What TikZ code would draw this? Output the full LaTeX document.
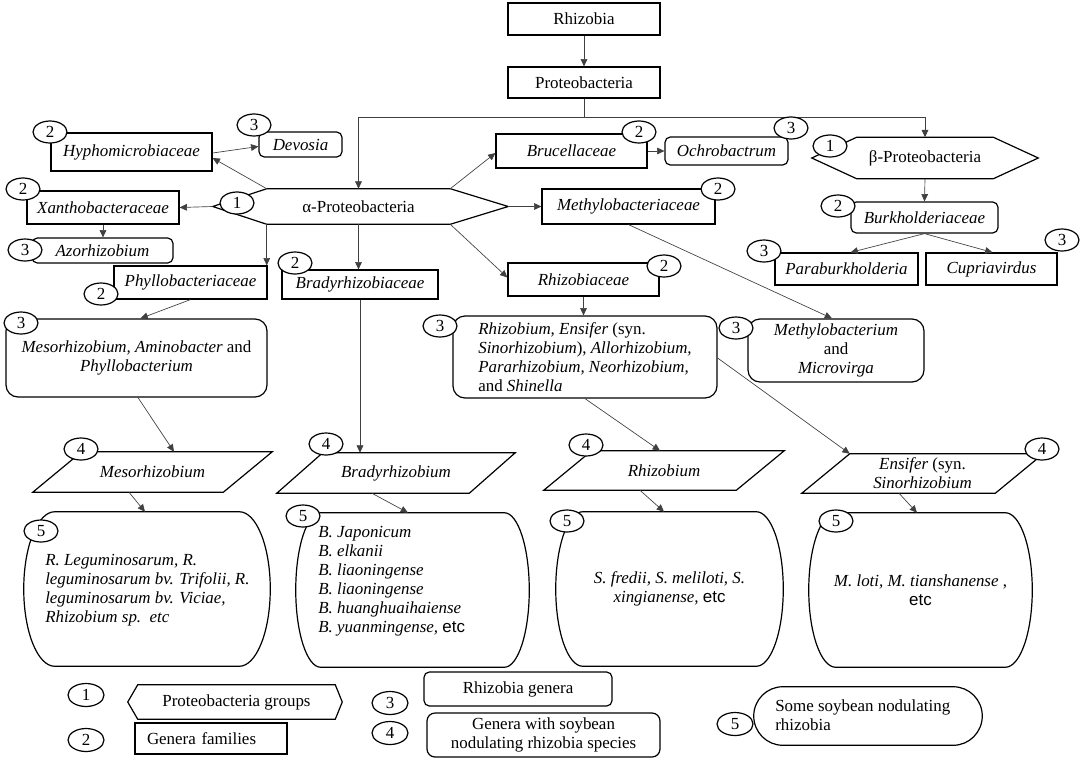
\documentclass[tikz,border=0pt]{standalone}
\usepackage{fontspec}
\setmainfont{Liberation Serif}
\newfontfamily\arialf{Liberation Sans}
\usetikzlibrary{arrows.meta,calc,shapes.geometric}

\tikzset{
 every node/.style={font=\fontsize{12.7pt}{14.2pt}\selectfont},
 sz/.style 2 args={minimum width=#1*0.75pt, minimum height=#2*0.75pt},
 fam/.style={draw, line width=0.9pt, inner sep=0pt},
 gen/.style={draw, line width=0.9pt, rounded corners=4pt, inner sep=0pt},
 big/.style={draw, line width=0.9pt, rounded corners=9pt, inner sep=0pt, align=center},
 outline/.style={draw, line width=0.9pt},
 hidden/.style={inner sep=0pt},
 num/.style={draw, ellipse, fill=white, line width=0.9pt, minimum width=34*0.75pt, minimum height=22*0.75pt, inner sep=0pt},
 lnum/.style={num, minimum width=36*0.75pt, minimum height=23*0.75pt},
 conn/.style={draw=black!75, line width=0.5pt, -{Triangle[length=5.5pt,width=5pt]}},
 plainline/.style={draw=black!75, line width=0.5pt},
}

\newcommand\paraout[2]{\draw[outline] ($(#1.north west)+(#2,0)$) -- (#1.north east) -- ($(#1.south east)+(-#2,0)$) -- (#1.south west) -- cycle;}
\newcommand\hexout[3]{\draw[outline] (#1.north west) -- (#1.north east) -- ($(#1.east)+(#3,0)$) -- (#1.south east) -- (#1.south west) -- ($(#1.west)+(-#2,0)$) -- cycle;}
\newcommand\termout[2]{\draw[outline] ($(#1.north west)+(#2,0)$) -- ($(#1.north east)+(-#2,0)$)
 .. controls ($(#1.north east)+(-0.448*#2,0)$) and ($(#1.east)!0.552!(#1.north east)$) .. (#1.east)
 .. controls ($(#1.east)!0.552!(#1.south east)$) and ($(#1.south east)+(-0.448*#2,0)$) .. ($(#1.south east)+(-#2,0)$)
 -- ($(#1.south west)+(#2,0)$)
 .. controls ($(#1.south west)+(0.448*#2,0)$) and ($(#1.west)!0.552!(#1.south west)$) .. (#1.west)
 .. controls ($(#1.west)!0.552!(#1.north west)$) and ($(#1.north west)+(0.448*#2,0)$) .. ($(#1.north west)+(#2,0)$) -- cycle;}

\begin{document}
\begin{tikzpicture}[x=0.75pt,y=-0.75pt]
\fill[white] (0,0) rectangle (1084,760);
\path[use as bounding box] (0,0) rectangle (1084,760);

% top
\node[fam,sz={152}{32}] (rhiz) at (584,19) {Rhizobia};
\node[fam,sz={152}{31}] (proteo) at (584,82.5) {Proteobacteria};

% groups
\node[hidden,sz={183}{35}] (alpha) at (358.5,206.5) {α-Proteobacteria};
\hexout{alpha}{54}{58}
\coordinate (alphaL) at ($(alpha.west)+(-54,0)$);
\coordinate (alphaR) at ($(alpha.east)+(58,0)$);
\node[hidden,sz={136}{41}] (beta) at (925,158) {β-Proteobacteria};
\hexout{beta}{45}{45}

% families and genera
\node[fam,sz={161}{38}] (hypho) at (131.5,152) {\textit{Hyphomicrobiaceae}};
\node[gen,sz={83}{25}] (devosia) at (300.5,144.5) {\textit{Devosia}};
\node[fam,sz={152}{33}] (xantho) at (103,207.5) {\textit{Xanthobacteraceae}};
\node[gen,sz={141}{25}] (azor) at (102.5,250.5) {\textit{Azorhizobium}};
\node[fam,sz={153}{33}] (phyllo) at (190.5,282.5) {\textit{Phyllobacteriaceae}};
\node[fam,sz={156}{29}] (brady) at (360,284.5) {\textit{Bradyrhizobiaceae}};
\node[fam,sz={151}{34}] (bruc) at (571.5,151) {\textit{Brucellaceae}};
\node[gen,sz={123}{28}] (ochro) at (726.5,151) {\textit{Ochrobactrum}};
\node[fam,sz={173}{35}] (methyl) at (628.5,206.5) {\textit{Methylobacteriaceae}};
\node[fam,sz={151}{33}] (rhizob) at (583.5,279.5) {\textit{Rhizobiaceae}\hspace{27pt}};
\node[gen,sz={147}{31}] (burk) at (924.5,217.5) {\textit{Burkholderiaceae}};
\node[fam,sz={143}{32}] (parab) at (846.5,269) {\textit{Paraburkholderia}};
\node[fam,sz={131}{32}] (cupri) at (991.5,269) {\textit{Cupriavirdus}};

% rhizobia genera
\node[big,sz={261}{78}] (meso3) at (136.5,358) {\textit{Mesorhizobium, Aminobacter} and\\\textit{Phyllobacterium}};
\node[big,sz={264}{82},align=left] (rhizo3) at (585,357) {\textit{Rhizobium, Ensifer} (syn.\\\textit{Sinorhizobium}), \textit{Allorhizobium,}\\\textit{Pararhizobium, Neorhizobium,}\\and \textit{Shinella}};
\node[big,sz={176}{63}] (methyl3) at (836,350.5) {\textit{Methylobacterium}\\and\\\textit{Microvirga}};

% genera with soybean nodulating species
\node[hidden,sz={239}{40}] (mesoP) at (152.5,472) {\textit{Mesorhizobium}};
\paraout{mesoP}{49}
\node[hidden,sz={238}{40}] (bradyP) at (396,473) {\textit{Bradyrhizobium}};
\paraout{bradyP}{46}
\node[hidden,sz={240}{39}] (rhizoP) at (664,470.5) {\textit{Rhizobium}};
\paraout{rhizoP}{48}
\node[hidden,sz={241}{39},align=center] (ensP) at (922.5,473.5) {\textit{Ensifer} (syn.\\\textit{Sinorhizobium}};
\paraout{ensP}{48}

% soybean nodulating rhizobia
\node[hidden,sz={246}{154}] (s1) at (147,589) {};
\termout{s1}{31}
\node[hidden,align=left,anchor=west] (s1t) at (45,590.5) {\textit{R. Leguminosarum, R.}\\\textit{leguminosarum bv. Trifolii, R.}\\\textit{leguminosarum bv. Viciae,}\\\textit{Rhizobium sp.\ \ etc}};
\node[hidden,sz={233}{154}] (s2) at (412.5,590) {};
\termout{s2}{25}
\node[hidden,align=left,anchor=west] (s2t) at (318,581) {\textit{B. Japonicum}\\\textit{B. elkanii}\\\textit{B. liaoningense}\\\textit{B. liaoningense}\\\textit{B. huanghuaihaiense}\\\textit{B. yuanmingense,} {\arialf etc}};
\node[hidden,sz={227}{154},align=center] (s3) at (669.5,589) {\textit{S. fredii, S. meliloti, S.}\\\textit{xingianense,} {\arialf etc}};
\termout{s3}{27}
\node[hidden,sz={223}{154},align=center] (s4) at (920.5,590) {\textit{M. loti, M. tianshanense} ,\\{\arialf etc}};
\termout{s4}{27}

% legend
\node[hidden,sz={197}{34}] (lhex) at (236.5,702) {Proteobacteria groups};
\hexout{lhex}{10}{7}
\node[fam,sz={152}{31},text width=128*0.75pt,align=left] (lfam) at (211,738.5) {Genera families};
\node[gen,sz={188}{34}] (lgen) at (518,689) {Rhizobia genera};
\node[gen,sz={233}{44},align=center,rounded corners=6pt] (lsoy) at (543.5,735) {Genera with soybean\\nodulating rhizobia species};
\node[hidden,sz={228}{58}] (lterm) at (868,716) {};
\termout{lterm}{29}
\node[hidden,align=left,anchor=west] (ltermt) at (775,715) {Some soybean nodulating\\rhizobia};

% connectors
\draw[conn] (rhiz) -- (proteo);
\coordinate (split) at (584,117);
\draw[plainline] (proteo.south) -- (split);
\draw[conn] (split) -| (alpha.north);
\draw[conn] (split) -| (beta.north);
\draw[conn] (alpha.north west) -- ($(hypho.east)+(0,6)$);
\draw[conn] ($(hypho.east)+(0,1)$) -- ($(devosia.west)+(0,2)$);
\draw[conn] (alphaL) -- (xantho.east);
\draw[conn] (xantho.south) -- (xantho.south |- azor.north);
\draw[conn] (alpha.south west) -- (alpha.south west |- phyllo.north);
\draw[conn] (alpha.south) -- (alpha.south |- brady.north);
\draw[conn] (alpha.north east) -- ($(bruc.west)+(0,2)$);
\draw[conn] (bruc.east) -- (ochro.west);
\draw[conn] (alphaR) -- (methyl.west);
\draw[conn] (alpha.south east) -- ($(rhizob.west)+(0,-2)$);
\draw[conn] (beta.south) -- (burk.north);
\draw[conn] (burk.south) -- ($(parab.north)+(4,0)$);
\draw[conn] (burk.south) -- ($(cupri.north)+(1,0)$);
\draw[conn] (methyl.south) -- ($(methyl3.north)+(-4,0)$);
\draw[conn] (phyllo.south) -- ($(meso3.north)+(4,0)$);
\draw[conn] (rhizob.south) -- (rhizob.south |- rhizo3.north);
\draw[conn] (brady.south) -- (brady.south |- bradyP.north);
\draw[conn] ($(meso3.south)+(1.5,0)$) -- ($(mesoP.north)+(21.5,0)$);
\draw[conn] (rhizo3.south) -- ($(rhizoP.north)+(-4,0)$);
\draw[conn] ($(rhizo3.east)+(0,1)$) -- ($(ensP.north west)+(48,0)$);
\draw[conn] ($(mesoP.south)+(-23.5,0)$) -- ($(s1.north)+(-2,0)$);
\draw[conn] ($(bradyP.south)+(-24,0)$) -- ($(s2.north)+(-4.5,0)$);
\draw[conn] ($(rhizoP.south)+(-24,0)$) -- ($(s3.north)+(-5.5,0)$);
\draw[conn] ($(ensP.south)+(-23.5,0)$) -- ($(s4.north)+(-3.5,0)$);

% number markers
\node[num] (n1a) at (237,203) {1};
\node[num] (n1b) at (830,146) {1};
\node[num] (n2hy) at (50,132) {2};
\node[num] (n3de) at (254,125) {3};
\node[num] (n2xa) at (23,189) {2};
\node[num] (n3az) at (25,250) {3};
\node[num] (n2ph) at (101,294) {2};
\node[num] (n2br) at (295,263) {2};
\node[num] (n2bu) at (639,132) {2};
\node[num] (n3oc) at (791,128) {3};
\node[num] (n2me) at (718,189) {2};
\node[num] (n2rh) at (664,266) {2};
\node[num] (n2bk) at (838,206) {2};
\node[num] (n3pa) at (764,251) {3};
\node[num] (n3cu) at (1062,240) {3};
\node[num] (n3ms) at (21,323) {3};
\node[num] (n3rz) at (440,326) {3};
\node[num] (n3mt) at (736,328) {3};
\node[num] (n4ms) at (81,449) {4};
\node[num] (n4br) at (326,444) {4};
\node[num] (n4rz) at (586,445) {4};
\node[num] (n4en) at (1042,449) {4};
\node[num] (n5a) at (41,531) {5};
\node[num] (n5b) at (303,516) {5};
\node[num] (n5c) at (567,521) {5};
\node[num] (n5d) at (836,521) {5};
\node[lnum] (l1) at (86,695) {1};
\node[lnum] (l2) at (86,740) {2};
\node[lnum] (l3) at (390,703) {3};
\node[lnum] (l4) at (390,733) {4};
\node[lnum] (l5) at (735,724) {5};
\end{tikzpicture}
\end{document}
